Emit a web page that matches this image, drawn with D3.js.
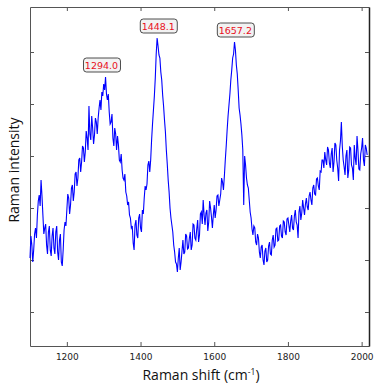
<!DOCTYPE html>
<html>
<head>
<meta charset="utf-8">
<script src="https://cdn.jsdelivr.net/npm/d3@7"></script>
<style>
  body { margin: 0; background: #fff; }
  svg { display: block; }
</style>
</head>
<body>
<svg width="379" height="388"></svg>
<script>
// wavenumber (cm-1), read every 2.5 cm-1
const ramanShift = [
  1100,1102.5,1105,1107.5,1110,1112.5,1115,1117.5,1120,1122.5,1125,1127.5,1130,1132.5,1135,1137.5,1140,1142.5,1145,1147.5,
  1150,1152.5,1155,1157.5,1160,1162.5,1165,1167.5,1170,1172.5,1175,1177.5,1180,1182.5,1185,1187.5,1190,1192.5,1195,1197.5,
  1200,1202.5,1205,1207.5,1210,1212.5,1215,1217.5,1220,1222.5,1225,1227.5,1230,1232.5,1235,1237.5,1240,1242.5,1245,1247.5,
  1250,1252.5,1255,1257.5,1260,1262.5,1265,1267.5,1270,1272.5,1275,1277.5,1280,1282.5,1285,1287.5,1290,1292.5,1295,1297.5,
  1300,1302.5,1305,1307.5,1310,1312.5,1315,1317.5,1320,1322.5,1325,1327.5,1330,1332.5,1335,1337.5,1340,1342.5,1345,1347.5,
  1350,1352.5,1355,1357.5,1360,1362.5,1365,1367.5,1370,1372.5,1375,1377.5,1380,1382.5,1385,1387.5,1390,1392.5,1395,1397.5,
  1400,1402.5,1405,1407.5,1410,1412.5,1415,1417.5,1420,1422.5,1425,1427.5,1430,1432.5,1435,1437.5,1440,1442.5,1445,1447.5,
  1450,1452.5,1455,1457.5,1460,1462.5,1465,1467.5,1470,1472.5,1475,1477.5,1480,1482.5,1485,1487.5,1490,1492.5,1495,1497.5,
  1500,1502.5,1505,1507.5,1510,1512.5,1515,1517.5,1520,1522.5,1525,1527.5,1530,1532.5,1535,1537.5,1540,1542.5,1545,1547.5,
  1550,1552.5,1555,1557.5,1560,1562.5,1565,1567.5,1570,1572.5,1575,1577.5,1580,1582.5,1585,1587.5,1590,1592.5,1595,1597.5,
  1600,1602.5,1605,1607.5,1610,1612.5,1615,1617.5,1620,1622.5,1625,1627.5,1630,1632.5,1635,1637.5,1640,1642.5,1645,1647.5,
  1650,1652.5,1655,1657.5,1660,1662.5,1665,1667.5,1670,1672.5,1675,1677.5,1680,1682.5,1685,1687.5,1690,1692.5,1695,1697.5,
  1700,1702.5,1705,1707.5,1710,1712.5,1715,1717.5,1720,1722.5,1725,1727.5,1730,1732.5,1735,1737.5,1740,1742.5,1745,1747.5,
  1750,1752.5,1755,1757.5,1760,1762.5,1765,1767.5,1770,1772.5,1775,1777.5,1780,1782.5,1785,1787.5,1790,1792.5,1795,1797.5,
  1800,1802.5,1805,1807.5,1810,1812.5,1815,1817.5,1820,1822.5,1825,1827.5,1830,1832.5,1835,1837.5,1840,1842.5,1845,1847.5,
  1850,1852.5,1855,1857.5,1860,1862.5,1865,1867.5,1870,1872.5,1875,1877.5,1880,1882.5,1885,1887.5,1890,1892.5,1895,1897.5,
  1900,1902.5,1905,1907.5,1910,1912.5,1915,1917.5,1920,1922.5,1925,1927.5,1930,1932.5,1935,1937.5,1940,1942.5,1945,1947.5,
  1950,1952.5,1955,1957.5,1960,1962.5,1965,1967.5,1970,1972.5,1975,1977.5,1980,1982.5,1985,1987.5,1990,1992.5,1995,1997.5,
  2000,2002.5,2005,2007.5,2010,2012.5,2015
]
// intensity, arbitrary units
const intensity = [
  88,110,101,84,96,112,118,108,131,145,151,140,166,150,131,112,118,122,101,92,
  114,120,96,90,110,118,98,92,114,120,94,86,106,112,84,80,96,116,124,120,
  136,152,148,132,141,158,161,145,154,172,174,160,168,186,188,174,184,200,198,184,
  194,215,208,196,240,212,206,230,218,202,211,228,224,212,228,238,246,236,254,250,
  262,256,269,252,246,252,234,222,224,232,208,200,218,212,196,210,201,186,184,192,
  176,168,166,172,154,150,141,144,131,128,118,120,103,96,121,126,111,108,128,132,
  118,114,136,132,148,160,156,162,181,185,174,186,206,222,236,250,268,292,308,300,
  291,288,274,266,251,240,226,214,196,182,166,154,138,128,121,114,101,94,84,82,
  74,88,98,76,84,95,106,92,94,112,110,97,98,108,114,96,101,122,121,108,
  106,117,126,104,111,132,134,122,146,131,121,133,136,115,124,145,138,129,118,131,
  141,128,136,150,151,140,146,152,168,164,156,170,186,200,216,230,241,252,266,276,
  288,292,304,296,281,272,256,238,231,222,211,196,141,190,181,168,161,158,146,134,
  128,117,111,120,118,104,101,112,108,94,88,99,101,86,81,95,98,84,86,100,
  104,92,91,106,111,99,101,117,118,105,106,120,121,110,108,125,124,114,111,127,
  128,121,114,125,131,118,116,130,136,124,121,108,134,140,126,133,146,138,131,142,
  148,139,136,150,154,146,141,158,161,152,151,167,168,160,156,175,174,186,186,178,
  194,186,181,199,196,183,178,192,198,174,184,203,201,186,178,165,196,205,224,200,
  186,179,171,190,196,168,176,199,198,181,178,166,201,188,181,210,196,177,176,192,
  198,208,186,180,201,198,191
]
const peakLabels = [1294.0, 1448.1, 1657.2]
const peakHeights = [269, 308, 304]
const xTicks = [1200, 1400, 1600, 1800, 2000]
const yTicks = [34, 86, 138, 190, 242, 294]

const svg = d3.select("svg")
const margin = {top: 7, right: 10, bottom: 42, left: 30}
const width = 379 - margin.left - margin.right,
  height = 388 - margin.top - margin.bottom

const x = d3.scaleLinear().domain([1100, 2020]).range([0, width])
const y = d3.scaleLinear().domain([0, 339]).range([height, 0])

const g = svg.append("g")
  .attr("transform", "translate(" + margin.left + "," + margin.top + ")")

// frame + inward ticks on all sides
const axisColor = "#555"
const axBottom = g.append("g")
  .attr("transform", "translate(0," + height + ")")
  .call(d3.axisBottom(x).tickValues(xTicks).tickFormat(d3.format("d"))
    .tickSizeInner(-4).tickSizeOuter(0).tickPadding(8))
const axTop = g.append("g")
  .call(d3.axisTop(x).tickValues(xTicks).tickSizeInner(-4).tickSizeOuter(0).tickFormat(""))
const axLeft = g.append("g")
  .call(d3.axisLeft(y).tickValues(yTicks).tickSizeInner(-4).tickSizeOuter(0).tickFormat(""))
const axRight = g.append("g")
  .attr("transform", "translate(" + width + ",0)")
  .call(d3.axisRight(y).tickValues(yTicks).tickSizeInner(-4).tickSizeOuter(0).tickFormat(""))

;[axBottom, axTop, axLeft, axRight].forEach(a => {
  a.selectAll("path,line").attr("stroke", axisColor)
})
axRight.select("path").attr("stroke", "#222").attr("stroke-width", 1.5)
axBottom.selectAll("text")
  .attr("font-family", "DejaVu Sans, sans-serif")
  .attr("font-size", 9)
  .attr("fill", "#222")

// spectrum
const line = d3.line()
  .x((d, i) => x(ramanShift[i]))
  .y(d => y(d))

g.append("path")
  .datum(intensity)
  .attr("fill", "none")
  .attr("stroke", "#0000ff")
  .attr("stroke-width", 1.1)
  .attr("d", line)

// peak annotations
const tags = g.selectAll(".tag")
  .data(peakLabels)
  .enter().append("g")
  .attr("class", "tag")
  .attr("transform", (d, i) => "translate(" + x(d) + "," + (y(peakHeights[i]) - 5) + ")")
tags.append("rect")
  .attr("x", -18).attr("y", -14)
  .attr("width", 37).attr("height", 14)
  .attr("rx", 3)
  .attr("fill", "#f2f2f2")
  .attr("stroke", "#222")
  .attr("stroke-width", 0.8)
tags.append("text")
  .attr("y", -3.5)
  .attr("text-anchor", "middle")
  .attr("font-family", "DejaVu Sans, sans-serif")
  .attr("font-size", 9.5)
  .attr("fill", "#e8101c")
  .text(d => d.toFixed(1))

// axis titles
const xt = svg.append("text")
  .attr("x", 201)
  .attr("y", 380)
  .attr("text-anchor", "middle")
  .attr("font-family", "Open Sans, sans-serif")
  .attr("font-size", 14)
  .attr("fill", "#111")
xt.append("tspan").text("Raman shift (cm")
xt.append("tspan").attr("dy", -5).attr("font-size", 8.5).text("-1")
xt.append("tspan").attr("dy", 5).text(")")

svg.append("text")
  .attr("transform", "translate(19,170) rotate(-90)")
  .attr("text-anchor", "middle")
  .attr("font-family", "Open Sans, sans-serif")
  .attr("font-size", 14)
  .attr("fill", "#111")
  .text("Raman intensity")
</script>
</body>
</html>
